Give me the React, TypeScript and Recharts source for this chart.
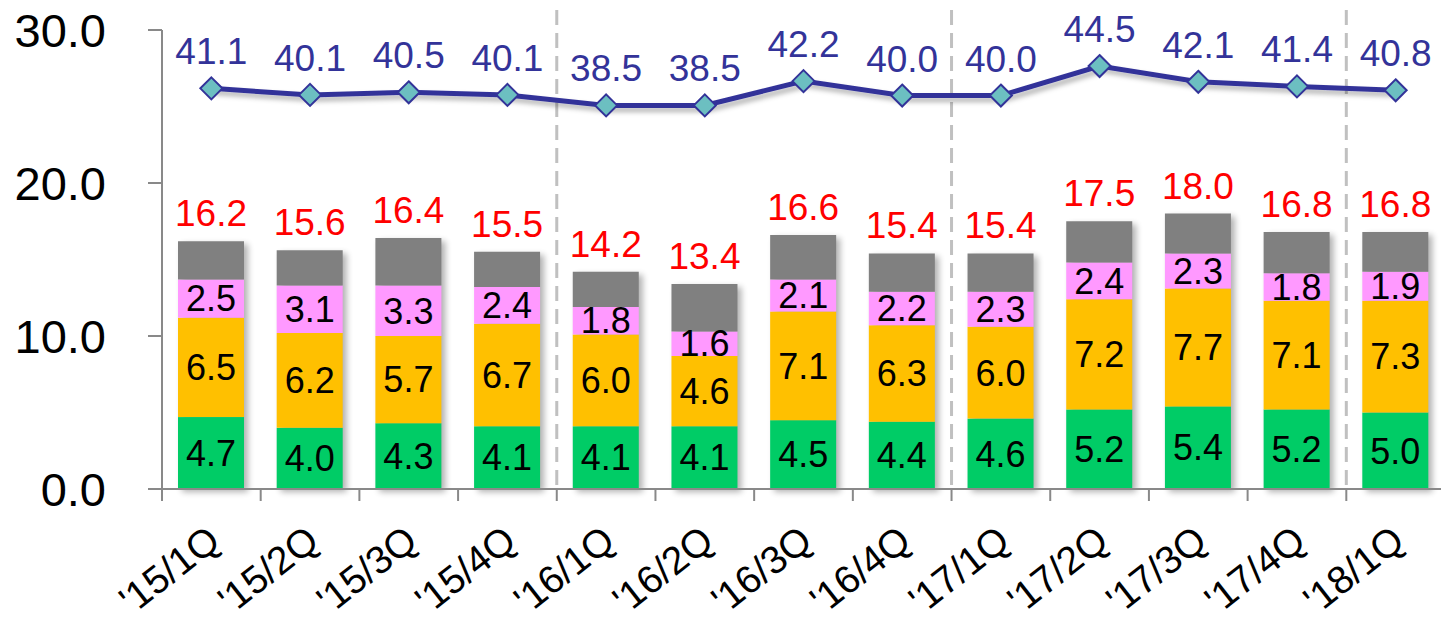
import React from "react"
import {
  ComposedChart,
  Bar,
  Line,
  XAxis,
  YAxis,
  LabelList,
  ReferenceLine,
} from "recharts"

const quarters = ["'15/1Q", "'15/2Q", "'15/3Q", "'15/4Q", "'16/1Q", "'16/2Q", "'16/3Q", "'16/4Q", "'17/1Q", "'17/2Q", "'17/3Q", "'17/4Q", "'18/1Q"]
const green = [4.7, 4.0, 4.3, 4.1, 4.1, 4.1, 4.5, 4.4, 4.6, 5.2, 5.4, 5.2, 5.0]
const orange = [6.5, 6.2, 5.7, 6.7, 6.0, 4.6, 7.1, 6.3, 6.0, 7.2, 7.7, 7.1, 7.3]
const pink = [2.5, 3.1, 3.3, 2.4, 1.8, 1.6, 2.1, 2.2, 2.3, 2.4, 2.3, 1.8, 1.9]
const totals = [16.2, 15.6, 16.4, 15.5, 14.2, 13.4, 16.6, 15.4, 15.4, 17.5, 18.0, 16.8, 16.8]
const ratio = [41.1, 40.1, 40.5, 40.1, 38.5, 38.5, 42.2, 40.0, 40.0, 44.5, 42.1, 41.4, 40.8]
const yTicks = [0, 10, 20, 30]
// first quarter of each new year gets a dashed divider on its left edge
const yearStarts = ["'16/1Q", "'17/1Q", "'18/1Q"]

const data = quarters.map((q, i) => ({
  q,
  green: green[i],
  orange: orange[i],
  pink: pink[i],
  gray: +(totals[i] - green[i] - orange[i] - pink[i]).toFixed(1),
  total: totals[i],
  ratio: ratio[i],
}))

const CHART_W = 1460
const CHART_H = 622
const Y_W = 162
const M_RIGHT = 15
const BAND = (CHART_W - Y_W - M_RIGHT) / quarters.length
const FONT = "'Liberation Sans', Arial, sans-serif"
const AXIS = "#898989"

const fmt = (v: any) => Number(v).toFixed(1)

// green sits at the bottom, so it also paints the soft shadow of the whole stack
const GreenShape = (props: any) => {
  const { x, y, width, height, payload, fill } = props
  const full = (height / payload.green) * payload.total
  return (
    <g>
      <rect
        x={x + 4}
        y={y + height - full + 3}
        width={width}
        height={full}
        fill="#000"
        opacity={0.3}
        filter="url(#barBlur)"
      />
      <rect x={x} y={y} width={width} height={height} fill={fill} />
    </g>
  )
}

const Diamond = (p: any) => {
  const { cx, cy, index } = p
  const r = 11
  return (
    <path
      key={index}
      d={`M${cx},${cy - r}L${cx + r},${cy}L${cx},${cy + r}L${cx - r},${cy}Z`}
      fill="#6CBFC1"
      stroke="#333399"
      strokeWidth={2}
    />
  )
}

const QuarterTick = (p: any) => {
  const { x, y, payload } = p
  const bx = x - BAND / 2
  const tx = x + 11
  const ty = y + 56
  return (
    <g>
      <line x1={bx} y1={y} x2={bx} y2={y + 12} stroke={AXIS} strokeWidth={2} />
      <text
        x={tx}
        y={ty}
        textAnchor="end"
        fontSize={39}
        fill="#000"
        fontFamily={FONT}
        transform={`rotate(-38, ${tx}, ${ty})`}
      >
        {payload.value}
      </text>
    </g>
  )
}

const YearDivider = (p: any) => {
  const top = Math.min(p.y1, p.y2)
  const bottom = Math.max(p.y1, p.y2)
  const x = p.x1 - BAND / 2
  return (
    <line
      x1={x}
      y1={top - 20}
      x2={x}
      y2={bottom}
      stroke="#C0C0C0"
      strokeWidth={3}
      strokeDasharray="15 8"
    />
  )
}

export default function App() {
  return (
    <div
      style={{
        position: "absolute",
        left: 0,
        top: 0,
        width: 1441,
        height: 622,
        overflow: "hidden",
        background: "#fff",
        fontFamily: FONT,
      }}
    >
      <ComposedChart
        width={CHART_W}
        height={CHART_H}
        data={data}
        margin={{ top: 30, right: M_RIGHT, left: 0, bottom: 0 }}
      >
        <defs>
          <filter id="barBlur" x="-50%" y="-50%" width="200%" height="200%">
            <feGaussianBlur stdDeviation="3" />
          </filter>
          <filter id="lineShadow" x="-10%" y="-50%" width="120%" height="200%">
            <feDropShadow dx="3" dy="4" stdDeviation="2.5" floodColor="#000" floodOpacity="0.3" />
          </filter>
        </defs>

        <XAxis
          xAxisId="cat"
          dataKey="q"
          interval={0}
          height={133}
          axisLine={{ stroke: AXIS, strokeWidth: 2 }}
          tickLine={false}
          tickSize={0}
          tickMargin={0}
          tick={<QuarterTick />}
        />
        <YAxis
          yAxisId="left"
          width={Y_W}
          domain={[0, 30]}
          ticks={yTicks}
          tickFormatter={fmt}
          axisLine={{ stroke: AXIS, strokeWidth: 2 }}
          tickLine={{ stroke: AXIS, strokeWidth: 2 }}
          tickSize={14}
          tickMargin={42}
          tick={{ fontSize: 47, fill: "#000", fontFamily: FONT }}
        />
        <YAxis yAxisId="right" orientation="right" domain={[-20, 50]} allowDataOverflow hide />

        {yearStarts.map((q) => (
          <ReferenceLine
            key={q}
            xAxisId="cat"
            yAxisId="left"
            x={q}
            shape={<YearDivider />}
          />
        ))}

        <Bar xAxisId="cat" yAxisId="left" dataKey="green" stackId="s" fill="#00CC66" barSize={66} shape={<GreenShape />} isAnimationActive={false}>
          <LabelList dataKey="green" position="center" formatter={fmt} fill="#000" fontSize={36} fontFamily={FONT} />
        </Bar>
        <Bar xAxisId="cat" yAxisId="left" dataKey="orange" stackId="s" fill="#FFC000" barSize={66} isAnimationActive={false}>
          <LabelList dataKey="orange" position="center" formatter={fmt} fill="#000" fontSize={36} fontFamily={FONT} />
        </Bar>
        <Bar xAxisId="cat" yAxisId="left" dataKey="pink" stackId="s" fill="#FF99FF" barSize={66} isAnimationActive={false}>
          <LabelList dataKey="pink" position="center" formatter={fmt} fill="#000" fontSize={36} fontFamily={FONT} />
        </Bar>
        <Bar xAxisId="cat" yAxisId="left" dataKey="gray" stackId="s" fill="#808080" barSize={66} isAnimationActive={false}>
          <LabelList dataKey="total" position="top" offset={15} formatter={fmt} fill="#FF0000" fontSize={37} fontFamily={FONT} />
        </Bar>

        <Line
          xAxisId="cat"
          yAxisId="right"
          dataKey="ratio"
          stroke="#333399"
          strokeWidth={5}
          dot={Diamond}
          activeDot={false}
          filter="url(#lineShadow)"
          isAnimationActive={false}
        >
          <LabelList dataKey="ratio" position="top" offset={24} formatter={fmt} fill="#333399" fontSize={37} fontFamily={FONT} />
        </Line>
      </ComposedChart>
    </div>
  )
}
